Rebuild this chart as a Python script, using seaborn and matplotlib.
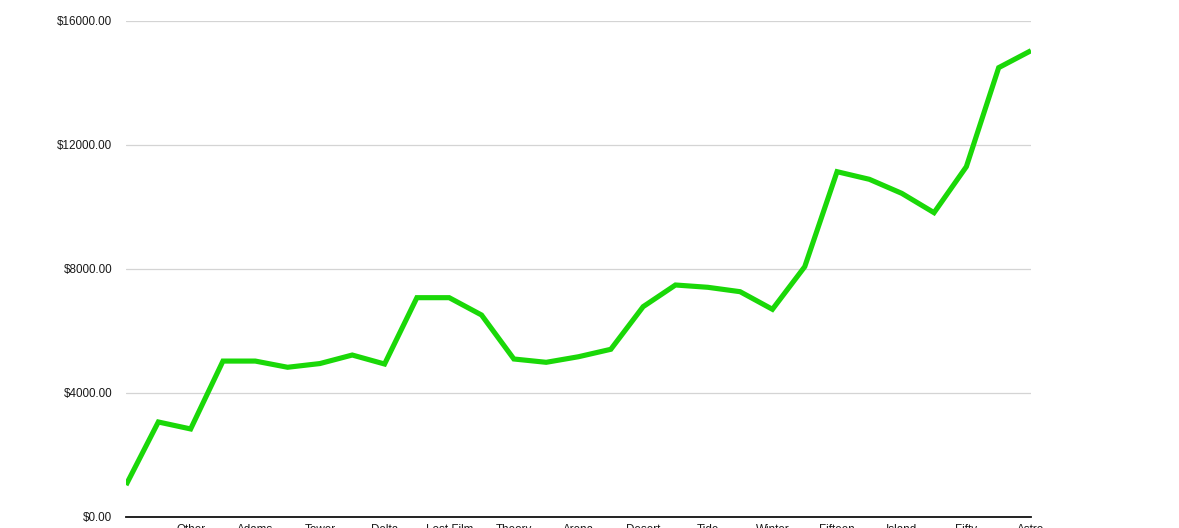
import matplotlib
matplotlib.use("Agg")
import matplotlib.pyplot as plt
import seaborn as sns
import pandas as pd

# Categories (x-axis labels are cut off in the reference; only every other one is shown)
categories = [
    "Start", "Second", "Other", "Third", "Adams", "Fourth", "Tower", "Fifth",
    "Delta", "Sixth", "Lost Film", "Seventh", "Theory", "Eighth", "Arena",
    "Ninth", "Desert", "Tenth", "Tide", "Eleventh", "Winter", "Twelfth",
    "Fifteen", "Thirteen", "Island", "Fourteen", "Fifty", "Sixteen", "Astro",
]
values = [
    1030, 3065, 2840, 5030, 5030, 4830, 4950, 5225, 4935, 7075, 7075, 6516,
    5097, 4990, 5170, 5410, 6785, 7484, 7410, 7268, 6700, 8075, 11139,
    10893, 10441, 9817, 11301, 14495, 15043,
]
y_ticks = [0, 4000, 8000, 12000, 16000]

df = pd.DataFrame({"idx": range(len(categories)), "cat": categories, "value": values})

sns.set_theme(style="white")
plt.rcParams["font.family"] = ["Liberation Sans", "DejaVu Sans"]

W, H, DPI = 1179, 528, 100
fig = plt.figure(figsize=(W / DPI, H / DPI), dpi=DPI)
left, right, top, bottom = 126, 1031, 21, 517
ax = fig.add_axes([left / W, 1 - bottom / H, (right - left) / W, (bottom - top) / H])

sns.lineplot(data=df, x="idx", y="value", ax=ax, color="#1ad808", linewidth=3.7,
             solid_joinstyle="miter", solid_capstyle="butt")

ax.set_xlim(0, len(categories) - 1)
ax.set_ylim(0, 16000)
ax.set_yticks(y_ticks)
ax.set_yticklabels([f"${v:.2f}" for v in y_ticks], fontsize=8.4, color="#1a1a1a")
ax.yaxis.grid(True, color="#d4d4d4", linewidth=0.9)
ax.xaxis.grid(False)
ax.set_axisbelow(True)

shown = list(range(2, len(categories), 2))
ax.set_xticks(shown)
ax.set_xticklabels([categories[i] for i in shown], fontsize=8.4, color="#1a1a1a")
ax.tick_params(axis="x", length=0, pad=5)
ax.tick_params(axis="y", length=0, pad=10)

ax.set_xlabel("")
ax.set_ylabel("")
for s in ["top", "right", "left"]:
    ax.spines[s].set_visible(False)
ax.spines["bottom"].set_color("#111111")
ax.spines["bottom"].set_linewidth(1.3)

fig.savefig("out.png", dpi=DPI, facecolor="white")
